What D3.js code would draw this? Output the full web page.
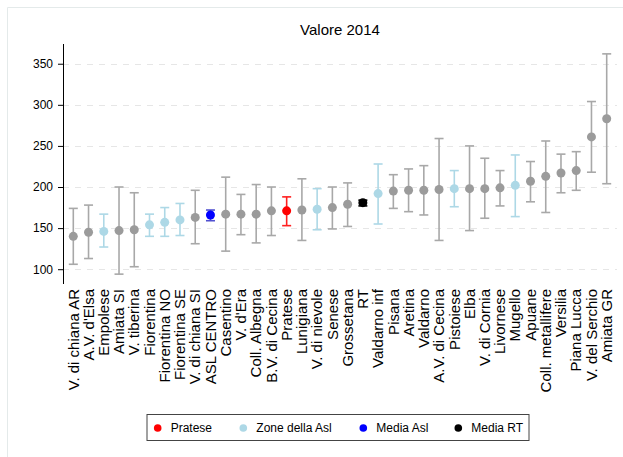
<!DOCTYPE html>
<html><head><meta charset="utf-8">
<script src="https://cdn.jsdelivr.net/npm/d3@7"></script>
<style>body{margin:0;background:#fff}svg{display:block;font-family:"Liberation Sans",Arial,sans-serif}</style>
</head><body>
<script>
const categories = ["V. di chiana AR","A.V. d'Elsa","Empolese","Amiata SI","V. tiberina","Fiorentina","Fiorentina NO","Fiorentina SE","V. di chiana SI","ASL CENTRO","Casentino","V. d'Era","Coll. Albegna","B.V. di Cecina","Pratese","Lunigiana","V. di nievole","Senese","Grossetana","RT","Valdarno inf","Pisana","Aretina","Valdarno","A.V. di Cecina","Pistoiese","Elba","V. di Cornia","Livornese","Mugello","Apuane","Coll. metallifere","Versilia","Piana Lucca","V. del Serchio","Amiata GR"];
const values = [140,145,146,147,148,154,157,160,163,166,167,167,167,171,171,172,173,175,179,181,192,195,196,196,197,198,198,198,199,202,207,213,217,220,261,283];
const upper = [174,178,167,200,193,167,175,180,196,172,212,191,203,200,188,210,198,200,205,184,228,215,222,226,259,220,250,235,220,239,231,256,240,243,304,362];
const lower = [106,113,127,94,103,140,140,141,131,159,122,142,132,141,153,135,148,149,152,177,155,174,170,166,135,176,147,162,177,164,182,169,193,196,218,204];
const groups = ["z","z","asl","z","z","asl","asl","asl","z","media","z","z","z","z","pratese","z","asl","z","z","rt","asl","z","z","z","z","asl","z","z","z","asl","z","z","z","z","z","z"];
const yTicks = [100,150,200,250,300,350];
const legendLabels = ["Pratese","Zone della Asl","Media Asl","Media RT"];
const legendKeys = ["pratese","asl","media","rt"];

const dotColor = {z:"#9b9b9b", asl:"#add8e6", media:"#0000ff", pratese:"#ff0000", rt:"#000000"};
const barColor = {z:"#a8a8a8", asl:"#add8e6", media:"#5050d0", pratese:"#ff2020", rt:"#000000"};

const W=623,H=457;
const svg=d3.select("body").append("svg").attr("width",W).attr("height",H);
svg.append("rect").attr("width",W).attr("height",H).attr("fill","#fff");
svg.append("path").attr("d",`M7.5,${H} V7.5 H${W}`).attr("fill","none").attr("stroke","#e4eaea").attr("stroke-width",1);

const x=d3.scalePoint().domain(categories).range([73.3,606.7]);
const y=d3.scaleLinear().domain([82,374]).range([284,44]);
const axX=63;

svg.append("g").selectAll("line").data(yTicks).join("line")
  .attr("x1",axX).attr("x2",617).attr("y1",d=>Math.round(y(d))+0.5).attr("y2",d=>Math.round(y(d))+0.5)
  .attr("stroke","#e6e6e6").attr("stroke-dasharray","6,6").attr("stroke-width",1);

const ya=svg.append("g").attr("transform",`translate(${axX},0)`).call(d3.axisLeft(y).tickValues(yTicks).tickSize(5).tickPadding(5));
ya.select(".domain").attr("d",`M0.5,44V284`).attr("stroke","#000");
ya.selectAll(".tick line").attr("stroke","#000");
ya.selectAll(".tick text").attr("font-size",12).attr("fill","#000").attr("font-family","Liberation Sans, Arial, sans-serif");

svg.append("text").attr("x",340).attr("y",35).attr("text-anchor","middle").attr("font-size",15).attr("fill","#000").text("Valore 2014");

const eb=svg.append("g");
categories.forEach((c,i)=>{
  const cx=x(c), col=barColor[groups[i]];
  const g=eb.append("g").attr("stroke",col).attr("stroke-width",1.6);
  g.append("line").attr("x1",cx).attr("x2",cx).attr("y1",y(upper[i])).attr("y2",y(lower[i]));
  g.append("line").attr("x1",cx-4.5).attr("x2",cx+4.5).attr("y1",y(upper[i])).attr("y2",y(upper[i]));
  g.append("line").attr("x1",cx-4.5).attr("x2",cx+4.5).attr("y1",y(lower[i])).attr("y2",y(lower[i]));
});
svg.append("g").selectAll("circle").data(categories).join("circle")
  .attr("cx",d=>x(d)).attr("cy",(d,i)=>y(values[i])).attr("r",4.5)
  .attr("fill",(d,i)=>dotColor[groups[i]]);

svg.append("g").selectAll("text").data(categories).join("text")
  .attr("transform",d=>`translate(${x(d)+5.2},289) rotate(-90)`)
  .attr("text-anchor","end").attr("font-size",15).attr("fill","#000").text(d=>d);

const lg=svg.append("g");
lg.append("rect").attr("x",147).attr("y",414.5).attr("width",382).attr("height",26).attr("fill","#fff").attr("stroke","#444").attr("stroke-width",1);
const lx=[157.7,243.3,363.3,458.3];
legendLabels.forEach((l,i)=>{
  lg.append("circle").attr("cx",lx[i]).attr("cy",428).attr("r",3.8).attr("fill",dotColor[legendKeys[i]]);
  lg.append("text").attr("x",lx[i]+13).attr("y",432).attr("font-size",12).attr("fill","#000").text(l);
});
</script>
</body></html>
